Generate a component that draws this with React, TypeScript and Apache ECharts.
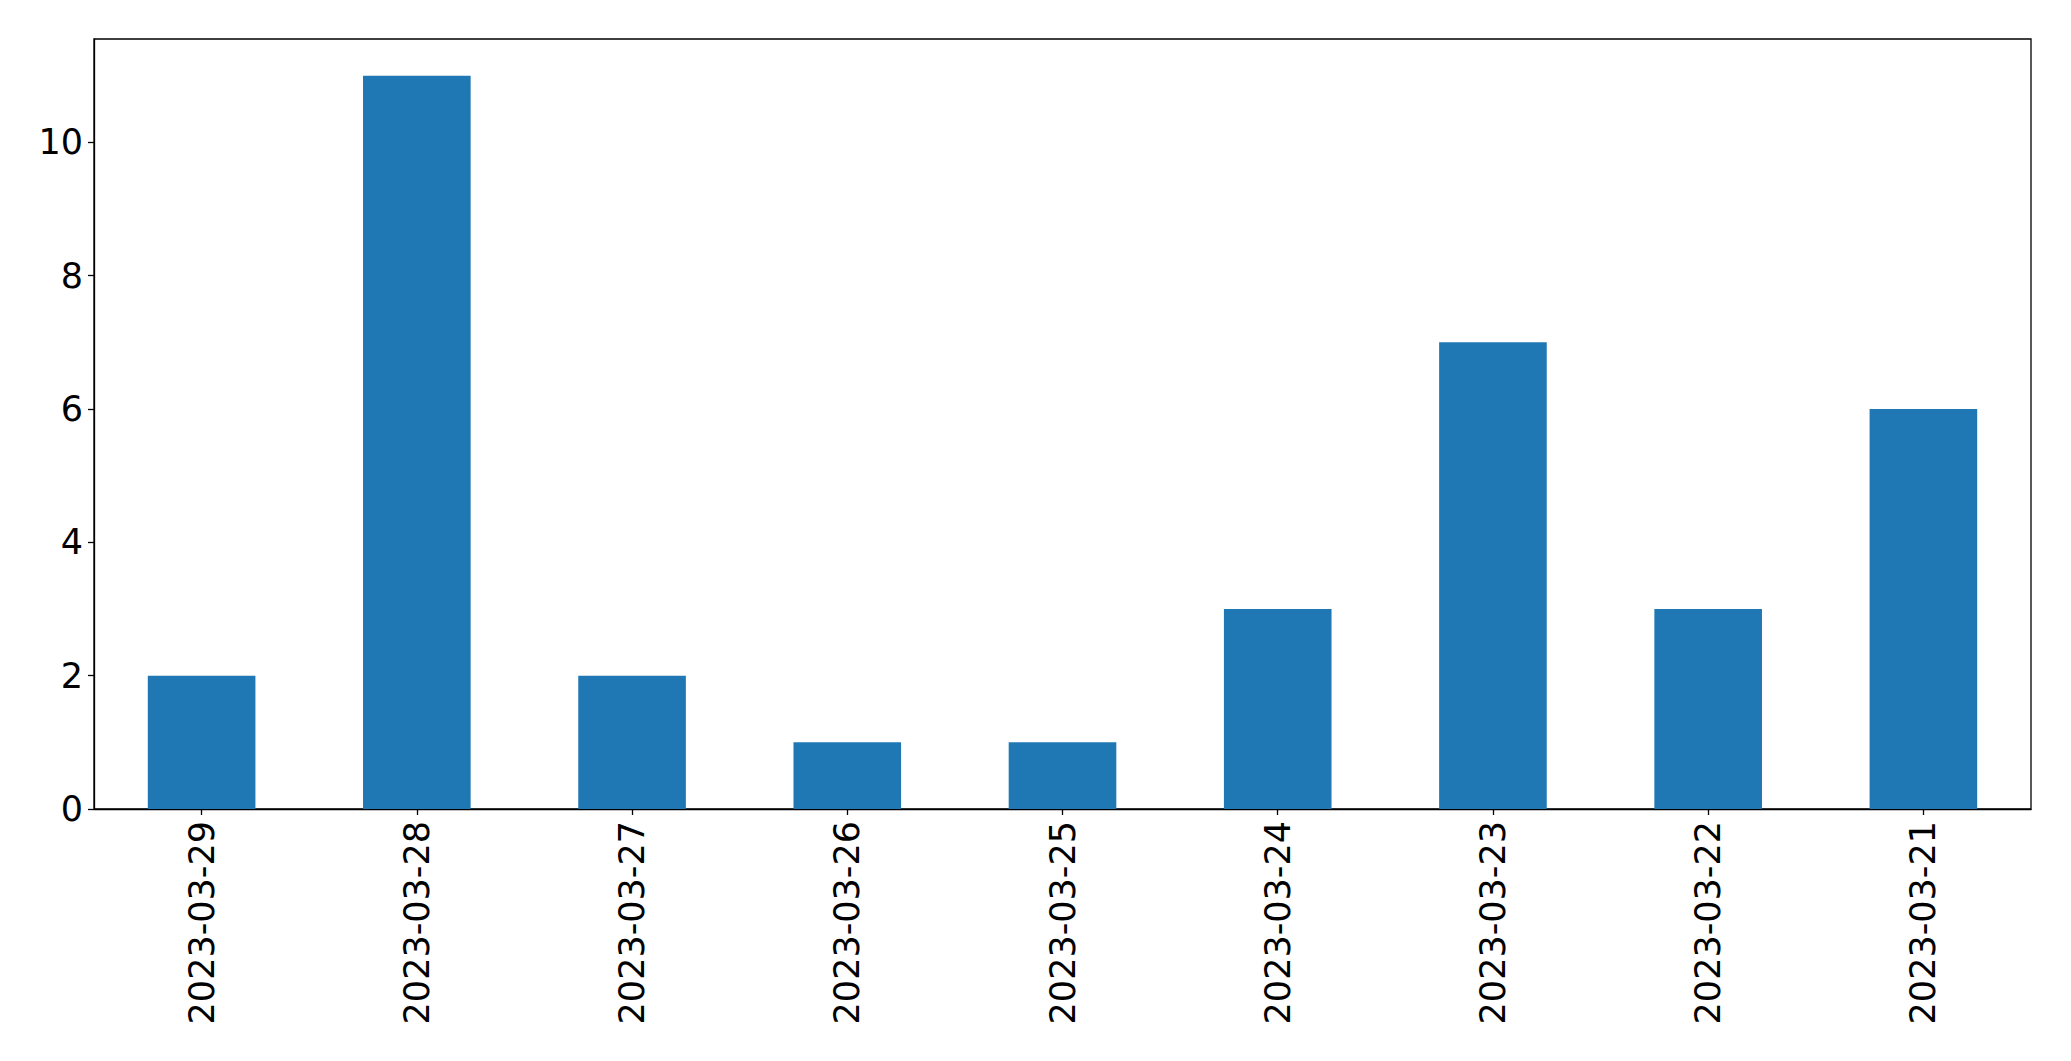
import React, { useEffect, useRef } from "react";
import * as echarts from "echarts";

const categories = [
  "2023-03-29",
  "2023-03-28",
  "2023-03-27",
  "2023-03-26",
  "2023-03-25",
  "2023-03-24",
  "2023-03-23",
  "2023-03-22",
  "2023-03-21",
];
const values = [2, 11, 2, 1, 1, 3, 7, 3, 6];
const yTicks = [0, 2, 4, 6, 8, 10];

export default function App() {
  const ref = useRef<HTMLDivElement>(null);
  useEffect(() => {
    if (!ref.current) return;
    const chart = echarts.init(ref.current, null, { renderer: "svg" });
    chart.setOption({
      animation: false,
      backgroundColor: "#fff",
      textStyle: { fontFamily: "DejaVu Sans" },
      grid: {
        left: 94,
        right: 40,
        top: 39,
        bottom: 252,
        show: true,
        borderColor: "#000",
        borderWidth: 1.3,
        containLabel: false,
      },
      xAxis: {
        type: "category",
        data: categories,
        boundaryGap: true,
        axisLine: { show: true, lineStyle: { color: "#000", width: 1.3 } },
        axisTick: { show: true, alignWithLabel: true, length: 6, lineStyle: { color: "#000", width: 1.3 } },
        axisLabel: {
          rotate: 90,
          fontSize: 35,
          color: "#000",
          margin: 12,
          fontFamily: "DejaVu Sans",
        },
        splitLine: { show: false },
      },
      yAxis: {
        type: "value",
        min: 0,
        max: 11.55,
        interval: 2,
        axisLine: { show: true, lineStyle: { color: "#000", width: 1.3 } },
        axisTick: { show: true, length: 6, lineStyle: { color: "#000", width: 1.3 }, customValues: yTicks },
        axisLabel: {
          fontSize: 35,
          color: "#000",
          margin: 11,
          fontFamily: "DejaVu Sans",
          customValues: yTicks,
        },
        splitLine: { show: false },
      },
      series: [
        {
          type: "bar",
          data: values,
          barWidth: "50%",
          itemStyle: { color: "#1f77b4" },
        },
      ],
    });
    return () => chart.dispose();
  }, []);
  return (
    <div
      ref={ref}
      style={{ position: "absolute", left: 0, top: 0, width: 2071, height: 1061 }}
    />
  );
}
